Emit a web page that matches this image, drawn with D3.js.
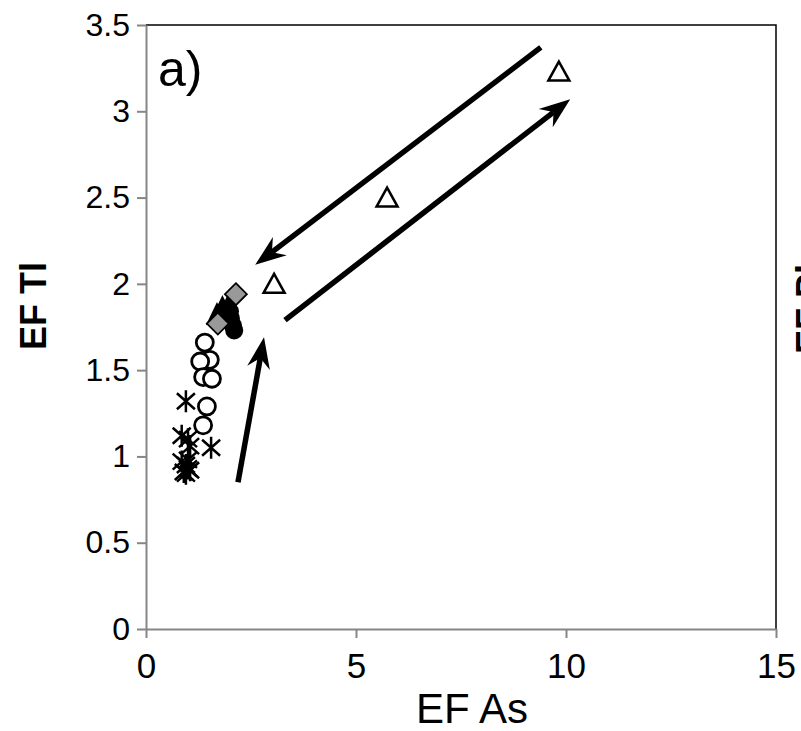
<!DOCTYPE html>
<html>
<head>
<meta charset="utf-8">
<script src="https://cdn.jsdelivr.net/npm/d3@7"></script>
<style>
  body { margin: 0; background: #fff; }
  svg { display: block; }
  text { font-family: 'Liberation Sans', Arial, sans-serif; }
</style>
</head>
<body>
<div id="chart"></div>
<script>
// axis ticks
const xTicks = [0, 5, 10, 15]
const yTicks = [0, 0.5, 1, 1.5, 2, 2.5, 3, 3.5]

// series values [EF As, EF Tl]
const openCircles = [[1.40, 1.66], [1.52, 1.56], [1.29, 1.55], [1.36, 1.46], [1.57, 1.45], [1.45, 1.29], [1.36, 1.18]]
const asterisks = [[0.95, 1.32], [0.85, 1.12], [1.00, 1.10], [1.05, 1.06], [1.55, 1.05], [0.85, 0.97],
  [0.95, 0.95], [1.00, 0.93], [0.90, 0.91], [1.05, 0.92], [0.95, 0.90], [1.00, 0.98]]
const openTriangles = [[9.83, 3.23], [5.74, 2.50], [3.05, 2.00]]
const filledCircles = [[2.07, 1.76], [2.10, 1.73], [2.02, 1.80], [2.00, 1.84]]
const filledTriangles = [[1.69, 1.82], [1.82, 1.86], [1.96, 1.87]]
const diamonds = [[2.14, 1.94], [1.71, 1.77]]

// arrows [x1, y1, x2, y2] in data units
const arrows = [[9.40, 3.37, 2.60, 2.11], [3.31, 1.79, 10.10, 3.07], [2.19, 0.85, 2.81, 1.69]]

const width = 801, height = 731
const x = d3.scaleLinear().domain([0, 15]).range([146, 776])
const y = d3.scaleLinear().domain([0, 3.5]).range([629, 25])

const svg = d3.select('#chart').append('svg')
  .attr('width', width)
  .attr('height', height)

// plot border (top / right black)
svg.append('path')
  .attr('d', `M ${x(0)} ${y(3.5)} H ${x(15)} V ${y(0)}`)
  .attr('fill', 'none')
  .attr('stroke', '#000')
  .attr('stroke-width', 1.5)

const axisColor = '#868686'
const gx = svg.append('g')
  .attr('transform', `translate(0, ${y(0)})`)
  .call(d3.axisBottom(x).tickValues(xTicks).tickSize(9).tickSizeOuter(0).tickPadding(15).tickFormat(d => String(d)))
const gy = svg.append('g')
  .attr('transform', `translate(${x(0)}, 0)`)
  .call(d3.axisLeft(y).tickValues(yTicks).tickSize(9).tickSizeOuter(0).tickPadding(7).tickFormat(d => String(d)))
;[gx, gy].forEach(g => {
  g.select('.domain').attr('stroke', axisColor).attr('stroke-width', 2)
  g.selectAll('.tick line').attr('stroke', axisColor).attr('stroke-width', 2)
  g.selectAll('.tick text').attr('fill', '#000')
    .style('font-family', "'Liberation Sans', Arial, sans-serif")
})
gx.selectAll('.tick text').style('font-size', '35px')
gy.selectAll('.tick text').style('font-size', '32px')

// axis titles
svg.append('text')
  .attr('x', 472).attr('y', 723)
  .attr('text-anchor', 'middle')
  .style('font-size', '42px')
  .text('EF As')
svg.append('text')
  .attr('transform', `translate(46, ${306}) rotate(-90)`)
  .attr('text-anchor', 'middle')
  .style('font-size', '36px')
  .style('font-weight', 'bold')
  .text('EF Tl')
// neighbouring panel's title, cut by the edge as in the original
svg.append('text')
  .attr('transform', `translate(822, ${303}) rotate(-90)`)
  .attr('text-anchor', 'middle')
  .style('font-size', '36px')
  .style('font-weight', 'bold')
  .text('EF Pb')
svg.append('text')
  .attr('x', 158).attr('y', 86)
  .style('font-size', '50px')
  .text('a)')

// markers
const plot = svg.append('g')

plot.selectAll('circle.open').data(openCircles).enter().append('circle')
  .attr('class', 'open')
  .attr('cx', d => x(d[0])).attr('cy', d => y(d[1]))
  .attr('r', 8.5)
  .attr('fill', '#fff')
  .attr('stroke', '#000')
  .attr('stroke-width', 2.8)

const star = 'M 0 -11 V 11 M -9 -8 L 9 8 M -9 8 L 9 -8'
plot.selectAll('path.star').data(asterisks).enter().append('path')
  .attr('class', 'star')
  .attr('transform', d => `translate(${x(d[0])}, ${y(d[1])})`)
  .attr('d', star)
  .attr('fill', 'none')
  .attr('stroke', '#000')
  .attr('stroke-width', 2.5)

const tri = 'M 0 -10 L 10.5 9 L -10.5 9 Z'
plot.selectAll('path.otri').data(openTriangles).enter().append('path')
  .attr('class', 'otri')
  .attr('transform', d => `translate(${x(d[0])}, ${y(d[1])})`)
  .attr('d', tri)
  .attr('fill', '#fff')
  .attr('stroke', '#000')
  .attr('stroke-width', 2.5)

plot.selectAll('circle.filled').data(filledCircles).enter().append('circle')
  .attr('class', 'filled')
  .attr('cx', d => x(d[0])).attr('cy', d => y(d[1]))
  .attr('r', 9)
  .attr('fill', '#000')

const ftri = 'M 0 -13 L 11 10 L -11 10 Z'
plot.selectAll('path.ftri').data(filledTriangles).enter().append('path')
  .attr('class', 'ftri')
  .attr('transform', d => `translate(${x(d[0])}, ${y(d[1])})`)
  .attr('d', ftri)
  .attr('fill', '#000')

plot.selectAll('path.dia').data(diamonds).enter().append('path')
  .attr('class', 'dia')
  .attr('transform', d => `translate(${x(d[0])}, ${y(d[1])})`)
  .attr('d', 'M 0 -11 L 11 0 L 0 11 L -11 0 Z')
  .attr('fill', '#999')
  .attr('stroke', '#000')
  .attr('stroke-width', 1.8)

// arrows
const arrowG = svg.append('g')
arrows.forEach(a => {
  const x1 = x(a[0]), y1 = y(a[1]), x2 = x(a[2]), y2 = y(a[3])
  const ang = Math.atan2(y2 - y1, x2 - x1)
  const len = 31, hw = 11.5, notch = 21
  const bx = x2 - len * Math.cos(ang), by = y2 - len * Math.sin(ang)
  const nx = x2 - notch * Math.cos(ang), ny = y2 - notch * Math.sin(ang)
  const px = -Math.sin(ang) * hw, py = Math.cos(ang) * hw
  arrowG.append('line')
    .attr('x1', x1).attr('y1', y1).attr('x2', nx).attr('y2', ny)
    .attr('stroke', '#000')
    .attr('stroke-width', 5.5)
  arrowG.append('path')
    .attr('d', `M ${x2} ${y2} L ${bx + px} ${by + py} L ${nx} ${ny} L ${bx - px} ${by - py} Z`)
    .attr('fill', '#000')
})
</script>
</body>
</html>
